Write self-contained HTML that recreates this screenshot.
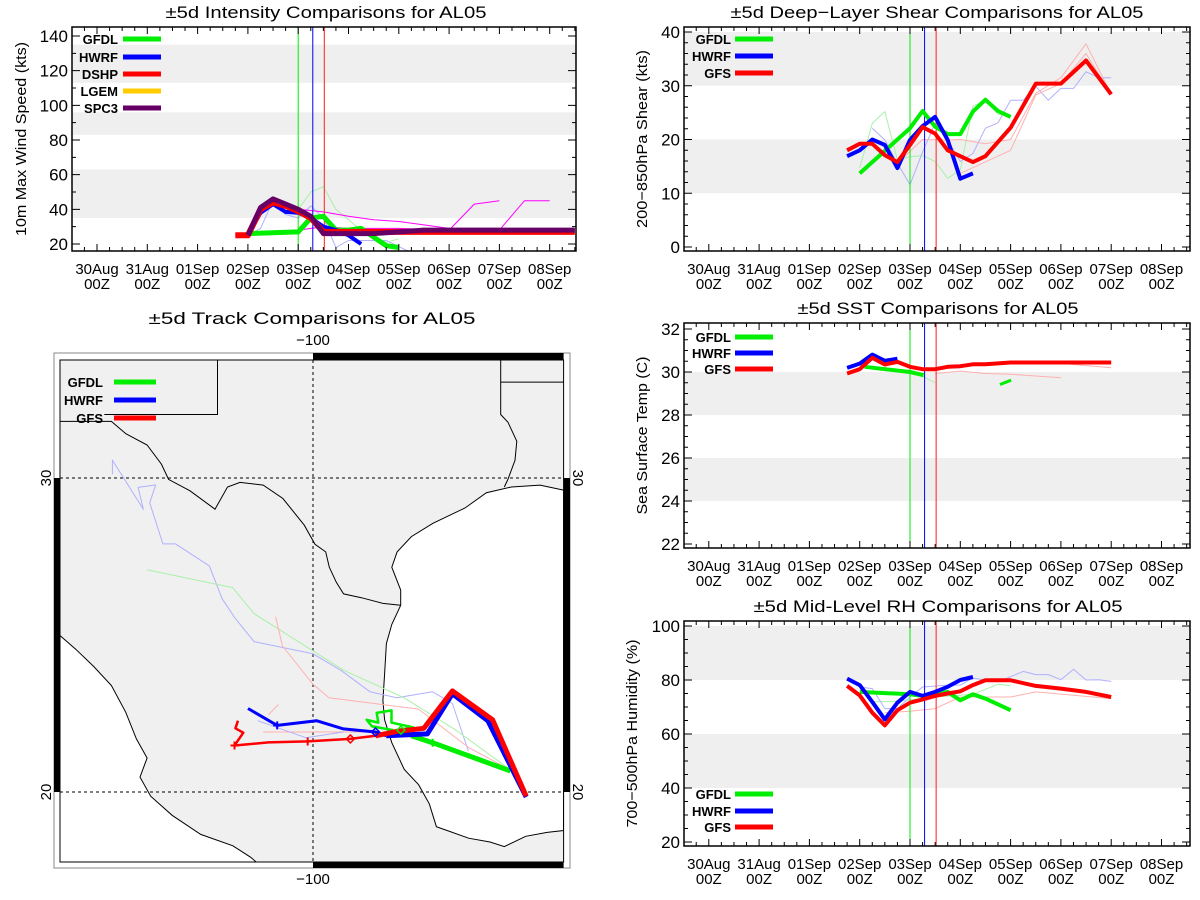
<!DOCTYPE html>
<html><head><meta charset="utf-8"><title>AL05 comparisons</title>
<style>
html,body{margin:0;padding:0;background:#fff;}
svg{display:block;font-family:"Liberation Sans",sans-serif;}
</style></head>
<body>
<svg id="fig" width="1200" height="900" viewBox="0 0 1200 900" xmlns="http://www.w3.org/2000/svg"></svg>
<script>
// ---------------- data ----------------
const dayLabels = ["30Aug","31Aug","01Sep","02Sep","03Sep","04Sep","05Sep","06Sep","07Sep","08Sep"];
const initTimes = [4.0, 4.29, 4.52]; // GFDL, HWRF, GFS/DSHP init (days since 30Aug 00Z)

// Intensity (kts)
const intTicks = [20,40,60,80,100,120,140];
const intBands = [[35,63],[83,96],[113,135]];
const intSpcDays = [3,3.25,3.5,3.75,4,4.25,4.5,5,5.5,6,6.5,7,7.5,8,8.5,9,9.5];
const intSpcVals = [25,41,46,43,40,36,26,26,26,27,28,28,28,28,28,28,28];
const intDshpDays = [2.75,3,3.25,3.5,3.75,4,4.25,4.5,5,6,7,8,9,9.5];
const intDshpVals = [25,25,40,44,42,39,35,27,27,27,27,27,27,27];
const intHwrfDays = [3,3.25,3.5,3.75,4,4.25,4.5,4.75,5,5.25];
const intHwrfVals = [25,38,43,38.5,38,35,30,28,25,20];
const intGfdlDays = [3,4,4.25,4.5,4.75,5,5.25,5.5,5.75,6];
const intGfdlVals = [26,27,35,36,28,28,29,24,19,18];
const intMag1Days = [4,4.5,5,5.5,6,6.5,7,7.5,8];
const intMag1Vals = [40,38.5,36,34,33,31,29,29,29];
const intMag2Days = [7,7.5,8];
const intMag2Vals = [28,43,45];
const intMag3Days = [8,8.5,9];
const intMag3Vals = [28,45,45];
const intMag4Days = [4,4.5,5,6,7];
const intMag4Vals = [28,30,29,29,28];
const intFaintGDays = [4,4.25,4.5,4.75,5.25,5.75,6];
const intFaintGVals = [40,50,53,40,28,21,23];
const intFaintBDays = [3,3.25,3.5,3.75,4,4.25,4.5,4.75,5,5.75,6.25];
const intFaintBVals = [25,29,45,37,35,42,35,18,22,22,15];

// Shear (kts)
const shrTicks = [0,10,20,30,40];
const shrBands = [[10,20],[30,40]];
const shrGfsDays = [2.75,3,3.25,3.5,3.75,4,4.25,4.5,4.75,5.25,5.5,6,6.5,7,7.5,8];
const shrGfsVals = [18,19.2,19.2,17.1,15.8,19,22.3,21.1,18,15.8,16.9,22.2,30.4,30.4,34.7,28.4];
const shrHwrfDays = [2.75,3,3.25,3.5,3.75,4,4.25,4.5,4.75,5,5.25];
const shrHwrfVals = [16.9,18,20,19,14.7,19.9,22.5,24.2,19.9,12.7,13.7];
const shrGfdlDays = [3,4,4.25,4.5,4.75,5,5.25,5.5,5.75,6];
const shrGfdlVals = [13.7,22.1,25.3,22.4,21,21,25.2,27.4,25.3,24.2];
const shrFaintGDays = [3,3.25,3.5,3.75,4,4.25,4.5,4.75,5,5.25,5.5,5.75,6];
const shrFaintGVals = [14.7,23,25.2,16.2,16.8,17,15.9,12.8,14.3,26.2,27.3,24.7,24.2];
const shrFaintBDays = [3.25,3.5,3.75,4,4.25,4.5,4.75,5,5.25,5.5,5.75,6,6.25,6.5,6.75,7,7.25,7.5,7.75,8];
const shrFaintBVals = [22.1,19.9,15.6,11.6,17.7,23,19.9,15.9,17.4,22.1,23.1,27.3,27.3,29.9,27.3,29.5,29.5,32.6,31.5,31.5];
const shrFaintR1Days = [3.75,4.25,4.75,5,5.5,6,6.5,7,7.5,8];
const shrFaintR1Vals = [15.6,20,19.9,20,19.2,20,28.6,31.5,37.8,28.4];
const shrFaintR2Days = [5,6,6.5,7,7.5,8];
const shrFaintR2Vals = [13.7,18,28.3,30.4,36,28.4];

// SST (C)
const sstTicks = [22,24,26,28,30,32];
const sstBands = [[24,26],[28,30]];
const sstGfsDays = [2.75,3,3.25,3.5,3.75,4,4.25,4.5,4.75,5,5.25,5.5,6,8];
const sstGfsVals = [29.93,30.13,30.66,30.35,30.47,30.24,30.13,30.13,30.24,30.27,30.36,30.36,30.44,30.44];
const sstHwrfDays = [2.75,3,3.25,3.5,3.75];
const sstHwrfVals = [30.19,30.39,30.81,30.52,30.62];
const sstGfdlDays = [3.1,4,4.27];
const sstGfdlVals = [30.24,30.0,29.85];
const sstGfdl2Days = [5.79,6.01];
const sstGfdl2Vals = [29.42,29.62];
const sstFaintR1Days = [4.5,5,5.5,6,7];
const sstFaintR1Vals = [29.93,30.04,29.93,29.9,29.73];
const sstFaintR2Days = [7,8];
const sstFaintR2Vals = [30.4,30.2];
const sstFaintGDays = [4,4.5];
const sstFaintGVals = [30.1,29.5];

// RH (%)
const rhTicks = [20,40,60,80,100];
const rhBands = [[40,60],[80,100]];
const rhGfsDays = [2.75,3,3.25,3.5,3.75,4,4.25,4.5,4.75,5,5.25,5.5,6,6.5,7,7.5,8];
const rhGfsVals = [77.8,74.3,67.9,63.2,68.8,71.6,72.8,74.1,75,75.8,78.1,79.9,79.9,77.8,76.8,75.6,73.7];
const rhHwrfDays = [2.75,3,3.25,3.5,3.75,4,4.25,4.5,4.75,5,5.25];
const rhHwrfVals = [80.5,78.1,71.9,65.4,71.6,75.6,74.1,75.6,77.5,80,81.1];
const rhGfdlDays = [3,4,4.25,4.5,4.75,5,5.25,5.5,6];
const rhGfdlVals = [75.6,74.7,74.1,74.7,75.6,72.5,74.7,73.1,68.8];
const rhFaintBDays = [3,3.25,3.5,3.75,4,4.25,4.75,5,5.25,5.75,6.25,6.5,6.75,7,7.25,7.5,7.75,8];
const rhFaintBVals = [77.4,76.8,69.4,69.4,73.7,77.4,78.1,78.1,80.7,79.3,83.2,82,82,80.1,84,80,80.1,79.5];
const rhFaintRDays = [3.5,4,4.5,5,6,6.5,8];
const rhFaintRVals = [67.9,68.4,69.4,73.7,73.7,75.6,73.1];
const rhFaintGDays = [3.25,3.75,4.5,5.25,5.75,6];
const rhFaintGVals = [71.9,72.1,73.7,74.7,78.4,77.9];

// Tracks (lon, lat)
const trkGfsLon = [-93.21,-94.28,-95.56,-96.47,-97.33,-98.01,-98.81,-100.17,-101.42,-102.50,-102.22,-102.47,-102.39];
const trkGfsLat = [19.87,22.30,23.22,22.03,21.93,21.79,21.69,21.61,21.58,21.48,21.89,22.03,22.27];
const trkHwrfLon = [-93.21,-94.43,-95.56,-96.36,-97.67,-98.01,-99.03,-99.89,-101.14,-102.07];
const trkHwrfLat = [19.84,22.27,23.13,21.85,21.79,21.91,22.01,22.27,22.12,22.66];
const trkGfdlLon = [-93.71,-96.19,-96.87,-97.33,-96.81,-97.50,-97.50,-97.97,-97.92,-98.29,-98.12,-97.44];
const trkGfdlLat = [20.67,21.57,21.79,21.97,22.06,22.21,22.60,22.52,22.21,22.30,22.09,21.97];
const trkFaintBLon = [-95.05,-95.56,-96.19,-97.33,-98.18,-99.09,-100.0,-101.88,-102.5,-102.9,-103.3,-104.38,-104.78,-105.2,-105.01,-105.57,-105.4,-106.39,-106.39];
const trkFaintBLat = [21.30,22.82,23.19,23.00,23.19,23.86,24.40,24.79,25.56,26.17,27.20,27.90,27.90,29.21,29.78,29.70,29.00,30.57,30.12];
const trkFaintGLon = [-93.69,-95.45,-97.10,-99.03,-101.88,-102.56,-105.29];
const trkFaintGLat = [20.69,21.97,23.00,23.88,25.68,26.51,27.08];
const trkFaintRLon = [-93.69,-95.05,-96.64,-99.49,-100.0,-100.97,-101.19];
const trkFaintRLat = [20.69,21.42,22.64,23.00,23.43,24.65,25.58];
const trkFaintR2Lon = [-101.59,-98.01];
const trkFaintR2Lat = [21.91,21.91];
const trkFaintR3Lon = [-101.42,-101.10];
const trkFaintR3Lat = [22.46,22.79];
const trkFaintB2Lon = [-101.76,-100.23,-99.03];
const trkFaintB2Lat = [22.27,21.73,21.91];

// ---------------- drawing ----------------
const NS = "http://www.w3.org/2000/svg";
const svg = document.getElementById("fig");
function mk(tag, attrs, parent){
  const e = document.createElementNS(NS, tag);
  for (const k in attrs) e.setAttribute(k, attrs[k]);
  (parent||svg).appendChild(e);
  return e;
}
const GREEN="#00ee00", BLUE="#0000ff", RED="#ff0000", ORANGE="#ffcc00", PURPLE="#660066";
const LG="#a8f0a8", LB="#b0b0ff", LR="#ffb0b0", MAG="#ff00ff";
const DAYW = 50.3;

function makePanel(p){
  const g = mk("g", {});
  
  
  p.g = g;
  p.x = d => p.d0x + d*DAYW;
  p.y = v => p.y1 + (v - p.v1)*(p.y2 - p.y1)/(p.v2 - p.v1);
  p.bands.forEach(b=>{
    const y1 = Math.max(p.T, p.y(b[1])), y2 = Math.min(p.B, p.y(b[0]));
    const r = mk("rect",{x:p.L,y:y1,width:p.R-p.L,height:y2-y1,fill:"#efefef"},g);
    
    
  });
  const t = mk("text",{x:p.tcx,y:p.T-9,"text-anchor":"middle","font-size":"17",textLength:p.titleW,lengthAdjust:"spacingAndGlyphs"},g);
  t.textContent = p.title;
  
  
  const yt = mk("text",{x:0,y:0,transform:`translate(${p.ytx},${(p.T+p.B)/2}) rotate(-90)`,"text-anchor":"middle","font-size":"15",textLength:p.ytW,lengthAdjust:"spacingAndGlyphs"},g);
  yt.textContent = p.ytitle;
  
  
  return p;
}
function series(p, days, vals, color, w, nm){
  const pts = days.map((d,i)=>p.x(d).toFixed(1)+","+p.y(vals[i]).toFixed(1)).join(" ");
  const l = mk("polyline",{points:pts,fill:"none",stroke:color,"stroke-width":w,"stroke-linejoin":"round","stroke-linecap":"butt"},p.g);
  
  
  l.setAttribute("clip-path", `url(#clip-${p.id})`);
  return l;
}
function initLines(p){
  const cols=[GREEN,BLUE,"#ff4040"], ws=[1,1,p.redW||1.2];
  initTimes.forEach((d,i)=>{
    const l = mk("line",{x1:p.x(d),x2:p.x(d),y1:p.T,y2:p.B,stroke:cols[i],"stroke-width":ws[i]},p.g);
    
    
  });
}
function frameAxes(p, ticks, minorStep){
  const g = p.g;
  const f = mk("rect",{x:p.L,y:p.T,width:p.R-p.L,height:p.B-p.T,fill:"none",stroke:"#000","stroke-width":1.5},g);
  
  
  let dpath = "";
  for (let q=-1.75; q<=10; q+=0.25){
    const x = p.x(q); if (x<p.L+1||x>p.R-1) continue;
    const major = Math.abs(q-Math.round(q))<1e-6;
    const len = major?7:4;
    dpath += `M${x},${p.B}v${-len}M${x},${p.T}v${len}`;
  }
  const vmin = Math.min(p.vlo,p.vhi), vmax = Math.max(p.vlo,p.vhi);
  for (let v=Math.ceil(vmin/minorStep)*minorStep; v<=vmax; v+=minorStep){
    const y = p.y(v); if (y<p.T+1||y>p.B-1) continue;
    const major = ticks.some(t=>Math.abs(t-v)<1e-6);
    const len = major?8:4;
    dpath += `M${p.L},${y}h${len}M${p.R},${y}h${-len}`;
  }
  const tk = mk("path",{d:dpath,stroke:"#000","stroke-width":1,fill:"none"},g);
  
  
  dayLabels.forEach((lab,i)=>{
    const x = p.x(i);
    const t1 = mk("text",{x:x,y:p.B+23,"text-anchor":"middle","font-size":"15"},g);
    t1.textContent = lab;
    
    
    const t2 = mk("text",{x:x,y:p.B+38,"text-anchor":"middle","font-size":"15"},g);
    t2.textContent = "00Z";
    
    
  });
  ticks.forEach(v=>{
    const t = mk("text",{x:p.L-4,y:p.y(v)+6,"text-anchor":"end","font-size":"17"},g);
    t.textContent = String(v);
    
    
  });
}
function legend(g, entries, tx, lx1, lx2, ys, fs){
  entries.forEach((e,i)=>{
    const t = mk("text",{x:tx,y:ys[i]+5,"font-size":fs||"13","font-weight":"bold","text-anchor":"end"},g);
    t.textContent = e[0];
    
    
    const l = mk("line",{x1:lx1,x2:lx2,y1:ys[i],y2:ys[i],stroke:e[1],"stroke-width":5},g);
    
    
  });
}
const defs = mk("defs",{});
function clip(p){
  const c = mk("clipPath",{id:"clip-"+p.id},defs);
  mk("rect",{x:p.L,y:p.T,width:p.R-p.L,height:p.B-p.T},c);
}

// ---- Intensity panel
const pI = makePanel({id:"int",name:"intensity-chart",L:72,R:576,T:27,B:251,d0x:97,v1:20,y1:244,v2:140,y2:36,vlo:16,vhi:145,
  bands:intBands,title:"±5d Intensity Comparisons for AL05",titleW:321,tcx:326,ytitle:"10m Max Wind Speed (kts)",ytx:26,ytW:194});
clip(pI);
series(pI,intFaintGDays,intFaintGVals,LG,1,"gfdl-faint-line");
series(pI,intFaintBDays,intFaintBVals,LB,1,"hwrf-faint-line");
series(pI,intMag4Days,intMag4Vals,MAG,1,"other-model-line");
series(pI,intMag1Days,intMag1Vals,MAG,1,"other-model-line");
series(pI,intMag2Days,intMag2Vals,MAG,1,"other-model-line");
series(pI,intMag3Days,intMag3Vals,MAG,1,"other-model-line");
initLines(pI);
series(pI,intGfdlDays,intGfdlVals,GREEN,5,"gfdl-line");
series(pI,intHwrfDays,intHwrfVals,BLUE,4,"hwrf-line");
series(pI,intDshpDays,intDshpVals,RED,6,"dshp-line");
series(pI,intSpcDays,intSpcVals,PURPLE,5,"spc3-line");
legend(pI.g,[["GFDL",GREEN],["HWRF",BLUE],["DSHP",RED],["LGEM",ORANGE],["SPC3",PURPLE]],118,123,161,[39,57,74,91,108]);
frameAxes(pI,intTicks,10);

// ---- Shear panel
const pS = makePanel({id:"shr",name:"shear-chart",L:684,R:1190,T:27,B:251,d0x:708.8,v1:0,y1:247,v2:40,y2:32,vlo:-0.7,vhi:40.9,
  bands:shrBands,title:"±5d Deep−Layer Shear Comparisons for AL05",titleW:413,tcx:937,ytitle:"200−850hPa Shear (kts)",ytx:647,ytW:178});
clip(pS);
series(pS,shrFaintGDays,shrFaintGVals,LG,1,"gfdl-faint-line");
series(pS,shrFaintBDays,shrFaintBVals,LB,1,"hwrf-faint-line");
series(pS,shrFaintR1Days,shrFaintR1Vals,LR,1,"gfs-faint-line");
series(pS,shrFaintR2Days,shrFaintR2Vals,LR,1,"gfs-faint-line");
initLines(pS);
series(pS,shrGfdlDays,shrGfdlVals,GREEN,4,"gfdl-line");
series(pS,shrHwrfDays,shrHwrfVals,BLUE,4,"hwrf-line");
series(pS,shrGfsDays,shrGfsVals,RED,4,"gfs-line");
legend(pS.g,[["GFDL",GREEN],["HWRF",BLUE],["GFS",RED]],731,735,773,[39,56,73]);
frameAxes(pS,shrTicks,2);

// ---- SST panel
const pT = makePanel({id:"sst",name:"sst-chart",L:684,R:1190,T:323,B:548,d0x:708.8,v1:22,y1:544,v2:32,y2:329,vlo:21.8,vhi:32.3,
  bands:sstBands,title:"±5d SST Comparisons for AL05",titleW:281,tcx:938,ytitle:"Sea Surface Temp (C)",ytx:647,ytW:158});
clip(pT);
series(pT,sstFaintGDays,sstFaintGVals,LG,1,"gfdl-faint-line");
series(pT,sstFaintR1Days,sstFaintR1Vals,LR,1,"gfs-faint-line");
series(pT,sstFaintR2Days,sstFaintR2Vals,LR,1,"gfs-faint-line");
initLines(pT);
series(pT,sstGfdlDays,sstGfdlVals,GREEN,4,"gfdl-line");
series(pT,sstGfdl2Days,sstGfdl2Vals,GREEN,3,"gfdl-line");
series(pT,sstHwrfDays,sstHwrfVals,BLUE,4,"hwrf-line");
series(pT,sstGfsDays,sstGfsVals,RED,4,"gfs-line");
legend(pT.g,[["GFDL",GREEN],["HWRF",BLUE],["GFS",RED]],731,735,773,[337,353,369]);
frameAxes(pT,sstTicks,0.5);

// ---- RH panel
const pR = makePanel({id:"rh",name:"rh-chart",L:684,R:1190,T:621,B:846,d0x:708.8,v1:20,y1:842,v2:100,y2:626,vlo:18.5,vhi:101.9,
  bands:rhBands,title:"±5d Mid-Level RH Comparisons for AL05",titleW:369,tcx:938,ytitle:"700−500hPa Humidity (%)",ytx:637,ytW:188});
clip(pR);
series(pR,rhFaintGDays,rhFaintGVals,LG,1,"gfdl-faint-line");
series(pR,rhFaintBDays,rhFaintBVals,LB,1,"hwrf-faint-line");
series(pR,rhFaintRDays,rhFaintRVals,LR,1,"gfs-faint-line");
initLines(pR);
series(pR,rhGfdlDays,rhGfdlVals,GREEN,4,"gfdl-line");
series(pR,rhHwrfDays,rhHwrfVals,BLUE,4,"hwrf-line");
series(pR,rhGfsDays,rhGfsVals,RED,4,"gfs-line");
legend(pR.g,[["GFDL",GREEN],["HWRF",BLUE],["GFS",RED]],731,735,773,[794,811,827]);
frameAxes(pR,rhTicks,5);

// ---- Track map
const M = {L:60,R:563.6,T:360,B:862};
const lonX = lon => 313 + (lon+100)*31.4;
const latY = lat => 478 - (lat-30)*31.4;
const Z = (zx,zy) => [40+zx/2.8, 300+zy/2.62];
const gm = mk("g",{});


const mc = mk("clipPath",{id:"clip-map"},defs);
mk("rect",{x:M.L,y:M.T,width:M.R-M.L,height:M.B-M.T},mc);
const mt = mk("text",{x:312,y:324,"text-anchor":"middle","font-size":"17",textLength:327,lengthAdjust:"spacingAndGlyphs"},gm);
mt.textContent = "±5d Track Comparisons for AL05";


const land = mk("rect",{x:M.L,y:M.T,width:M.R-M.L,height:M.B-M.T,fill:"#f0f0f0"},gm);


function zpts(arr){ return arr.map(a=>Z(a[0],a[1]).map(v=>v.toFixed(1)).join(",")).join(" "); }
const gulfCoast = [[1466,498],[1400,485],[1320,490],[1250,505],[1190,545],[1100,585],[1040,620],[1000,660],[985,700],[1010,760],[1010,800],[985,850],[970,900],[965,980],[960,1050],[965,1100],[985,1160],[1020,1230],[1060,1270],[1090,1320],[1110,1380],[1140,1390],[1200,1410],[1260,1420],[1300,1432],[1360,1405],[1420,1395],[1466,1390]];
const gulf = mk("polygon",{points:zpts(gulfCoast),fill:"#fff",stroke:"#000","stroke-width":1,"clip-path":"url(#clip-map)"},gm);


const pacCoast = [[57,880],[100,915],[150,960],[200,1010],[240,1080],[270,1150],[300,1200],[280,1250],[310,1300],[370,1350],[450,1400],[540,1430],[590,1460],[615,1480]];
const pac = mk("polygon",{points:zpts(pacCoast.concat([[40,1480]])),fill:"#fff","clip-path":"url(#clip-map)"},gm);


const pacLine = mk("polyline",{points:zpts(pacCoast),fill:"none",stroke:"#000","stroke-width":1,"clip-path":"url(#clip-map)"},gm);


const borders = [
  [[57,318],[200,318],[240,350],[300,380],[340,430],[360,470],[420,500],[490,548],[525,490],[560,478],[625,485],[680,520],[740,590],[770,640],[800,660],[810,700],[830,740],[850,770],[900,780],[960,795],[1010,800]],
  [[497,157],[497,300],[180,300]],
  [[1290,157],[1290,300],[1310,320],[1335,370],[1330,420],[1310,470],[1300,490]],
  [[1290,215],[1466,215]]
];
borders.forEach(b=>{
  const l = mk("polyline",{points:zpts(b),fill:"none",stroke:"#000","stroke-width":1},gm);
  
  
});
const grid = mk("path",{d:`M${M.L},${latY(30)}H${M.R}M${M.L},${latY(20)}H${M.R}M${lonX(-100)},${M.T}V${M.B}`,stroke:"#000","stroke-width":1,"stroke-dasharray":"3,3",fill:"none"},gm);


function track(lons, lats, color, w, nm){
  const pts = lons.map((lo,i)=>lonX(lo).toFixed(1)+","+latY(lats[i]).toFixed(1)).join(" ");
  const l = mk("polyline",{points:pts,fill:"none",stroke:color,"stroke-width":w,"stroke-linejoin":"round","clip-path":"url(#clip-map)"},gm);
  
  
}
track(trkFaintBLon,trkFaintBLat,LB,1,"hwrf-faint-track");
track(trkFaintGLon,trkFaintGLat,LG,1,"gfdl-faint-track");
track(trkFaintRLon,trkFaintRLat,LR,1,"gfs-faint-track");
track(trkFaintR2Lon,trkFaintR2Lat,LR,1,"gfs-faint-track");
track(trkFaintR3Lon,trkFaintR3Lat,LR,1,"gfs-faint-track");
track(trkFaintB2Lon,trkFaintB2Lat,LB,1,"hwrf-faint-track");
track(trkGfdlLon.slice(0,3),trkGfdlLat.slice(0,3),GREEN,5,"gfdl-track");
track(trkGfdlLon.slice(2),trkGfdlLat.slice(2),GREEN,2.5,"gfdl-track");
track(trkHwrfLon.slice(0,5),trkHwrfLat.slice(0,5),BLUE,5,"hwrf-track");
track(trkHwrfLon.slice(4),trkHwrfLat.slice(4),BLUE,3,"hwrf-track");
track(trkGfsLon.slice(0,6),trkGfsLat.slice(0,6),RED,5,"gfs-track");
track(trkGfsLon.slice(5),trkGfsLat.slice(5),RED,2.5,"gfs-track");
function plus(lon,lat,c){ const x=lonX(lon),y=latY(lat);
  const p=mk("path",{d:`M${x-4},${y}h8M${x},${y-4}v8`,stroke:c,"stroke-width":2},gm);
  
   }
function diam(lon,lat,c){ const x=lonX(lon),y=latY(lat);
  const p=mk("path",{d:`M${x},${y-4}L${x+4},${y}L${x},${y+4}L${x-4},${y}Z`,stroke:c,"stroke-width":1.5,fill:"none"},gm);
  
   }
plus(-102.5,21.48,RED); plus(-100.17,21.61,RED); diam(-98.81,21.69,RED);
plus(-101.14,22.12,BLUE); diam(-98.01,21.91,BLUE);
diam(-97.2,21.97,GREEN); plus(-96.19,21.57,GREEN);
legend(gm,[["GFDL",GREEN],["HWRF",BLUE],["GFS",RED]],103,114,156,[382,400,418]);
const mf1 = mk("rect",{x:54,y:353,width:516,height:515,fill:"none",stroke:"#888","stroke-width":1},gm);


const mf2 = mk("rect",{x:M.L,y:M.T,width:M.R-M.L,height:M.B-M.T,fill:"none",stroke:"#000","stroke-width":1},gm);


const bars = [[lonX(-100),353,M.R-lonX(-100),7],[lonX(-100),M.B,M.R-lonX(-100),6],[54,latY(30),6,latY(20)-latY(30)],[M.R,latY(30),6.4,latY(20)-latY(30)]];
bars.forEach(b=>{
  const r = mk("rect",{x:b[0],y:b[1],width:b[2],height:b[3],fill:"#000"},gm);
  
  
});
[["−100",313,345],["−100",313,884]].forEach(a=>{
  const t = mk("text",{x:a[1],y:a[2],"text-anchor":"middle","font-size":"15"},gm);
  t.textContent = a[0];
  
  
});
[["30",30],["20",20]].forEach(a=>{
  const y = latY(a[1]);
  const t1 = mk("text",{x:0,y:0,transform:`translate(51,${y}) rotate(-90)`,"text-anchor":"middle","font-size":"15"},gm);
  t1.textContent = a[0];
  
  
  const t2 = mk("text",{x:0,y:0,transform:`translate(573,${y}) rotate(90)`,"text-anchor":"middle","font-size":"15"},gm);
  t2.textContent = a[0];
  
  
});
</script>
</body></html>
